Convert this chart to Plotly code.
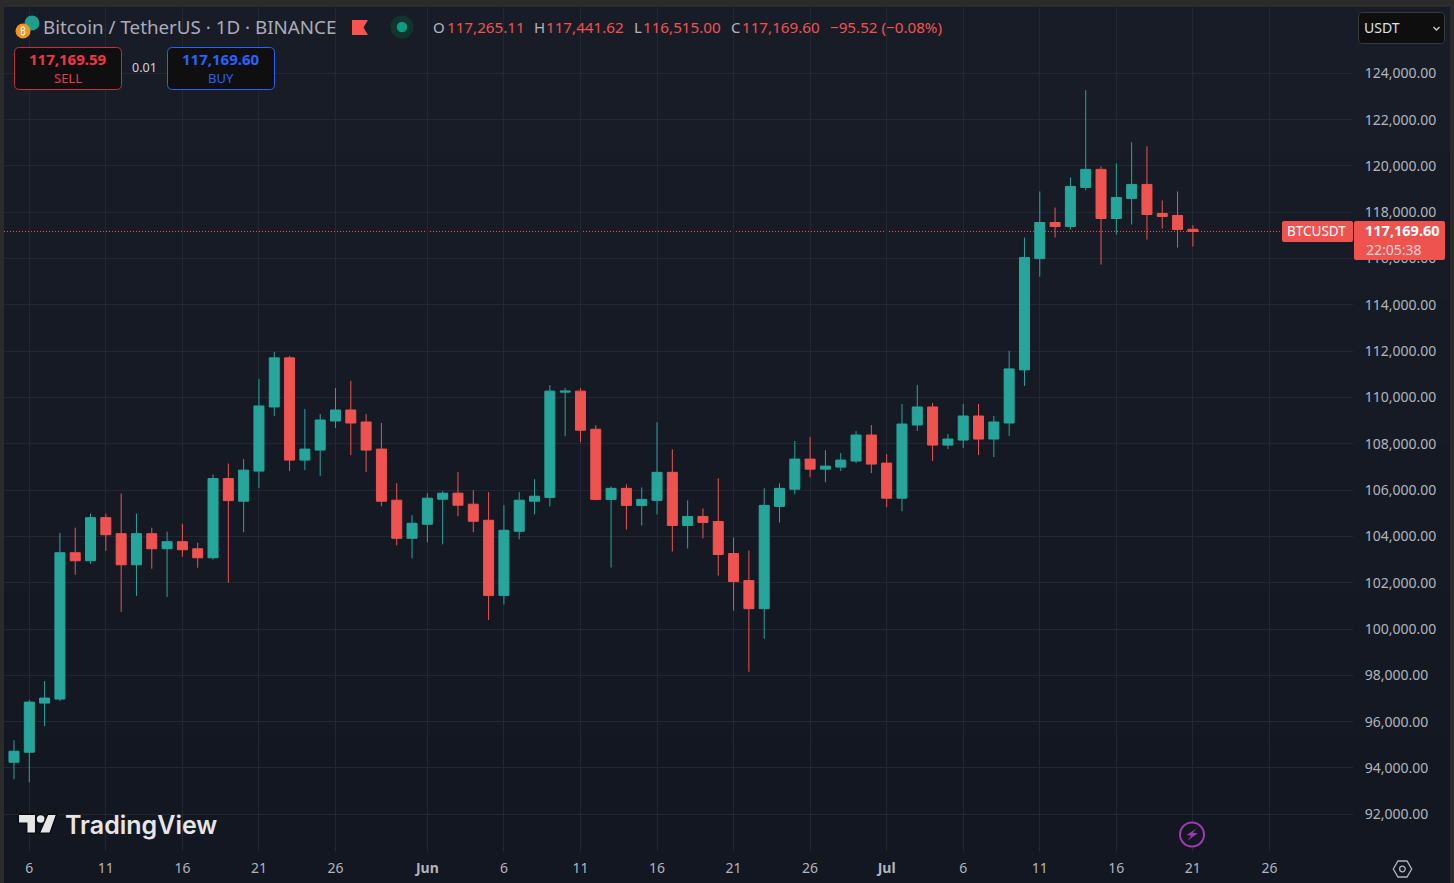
import pandas as pd
import plotly.graph_objects as go

# BTCUSDT daily candles
dates = pd.date_range("2025-05-05", "2025-07-21", freq="D")
opens = [94248, 94681, 96802, 96975, 103296, 102950, 104811, 104118, 102776, 104118, 103469, 103772, 103469, 103079,
         106499, 105521, 106820, 109590, 111711, 107296, 107729, 108984, 109460, 108941, 107772, 105564, 103919,
         104525, 105608, 105867, 105391, 104698, 101452, 104222, 105521, 105685, 110231, 110274, 108629, 105599,
         106075, 105339, 105556, 106768, 104473, 104863, 104646, 103261, 102092, 100880, 105296, 106040, 107339,
         106906, 106993, 107253, 108378,
         107166, 105651, 108811, 109590, 107945, 108162, 109201, 108205, 108898, 111192, 115997, 117556, 117382,
         119071, 119850, 117729, 118595, 119201, 117945, 117859, 117265.11]
highs = [95200, 96932, 97755, 104162, 104378, 104984, 104984, 105850, 104984, 104378, 104205, 104551, 103729, 106672,
         107149, 107339, 110802, 111971, 111798, 109504, 109287, 110413, 110716, 109287, 108898, 106300, 104915,
         105867, 105954, 106776, 105997, 105911, 105348, 105911, 106473, 110534, 110404, 110404, 108802, 106162,
         106248, 106118, 108932, 107763, 105556, 105209, 106508, 103954, 103391, 106075, 106291, 108118, 108291,
         107729, 107599, 108551, 108811,
         107556, 109720, 110543, 109763, 108421, 109720, 109720, 109201, 112014, 116906, 118898, 118205, 119504,
         123270, 119980, 120110, 121019, 120846, 118508, 118898, 117441.62]
lows = [93512, 93382, 95807, 96889, 102343, 102820, 103382, 100742, 101434, 102603, 101391, 103123, 102646, 103000,
        101997, 104179, 106084, 109201, 106820, 106863, 106603, 108681, 107512, 106776, 105304, 103616, 103053,
        103746, 103659, 104872, 104179, 100391, 101062, 103876, 104958, 105296, 108326, 108066, 105560, 102655,
        104300, 104473, 104950, 103348, 103478, 103911, 102309, 100794, 98153, 99582, 104603, 105824, 106560,
        106343, 106820, 107166, 106733,
        105261, 105088, 108551, 107253, 107772, 107815, 107512, 107426, 108335, 110499, 115218, 116906, 117253,
        118941, 115737, 117036, 117469, 116820, 117296, 116473, 116515.00]
closes = [94724, 96846, 97019, 103296, 102950, 104811, 104075, 102776, 104118, 103469, 103772, 103426, 103079, 106499,
          105547, 106863, 109633, 111711, 107296, 107772, 109027, 109460, 108898, 107729, 105521, 103919, 104569,
          105651, 105867, 105348, 104655, 101452, 104266, 105564, 105737, 110274, 110274, 108586, 105599, 106075,
          105339, 105599, 106768, 104473, 104863, 104603, 103218, 102049, 100880, 105339, 106075, 107339, 106906,
          107036, 107296, 108378, 107123,
          105651, 108854, 109590, 107945, 108205, 109201, 108205, 108941, 111235, 116040, 117556, 117382, 119114,
          119850, 117729, 118638, 119201, 117902, 117815, 117253, 117169.60]

last_price = 117169.60
price_ticks = list(range(92000, 126000, 2000))
date_ticks = ["2025-05-06", "2025-05-11", "2025-05-16", "2025-05-21", "2025-05-26", "2025-06-01", "2025-06-06",
              "2025-06-11", "2025-06-16", "2025-06-21", "2025-06-26", "2025-07-01", "2025-07-06", "2025-07-11",
              "2025-07-16", "2025-07-21", "2025-07-26"]
date_labels = ["6", "11", "16", "21", "26", "<b>Jun</b>", "6", "11", "16", "21", "26", "<b>Jul</b>", "6", "11", "16",
               "21", "26"]

FONT = "Noto Sans"
TEAL = "#26a69a"
RED = "#ef5350"
GRID = "#232732"
AXIS_TEXT = "#b2b5be"
SELL_RED = "#f23645"
BUY_BLUE = "#2962ff"
BG_BANDS = ["#181c27", "#171b26", "#161a25", "#151924", "#141823", "#131722"]

# plot area in page pixels
L, R, T, B = 4, 1353, 7, 851


def xp(px):
    return (px - L) / (R - L)


def yp(py):
    return (B - py) / (B - T)


def path(points, close=True):
    d = "M " + " L ".join(f"{xp(x):.5f},{yp(y):.5f}" for x, y in points)
    return d + (" Z" if close else "")


def rounded(x0, y0, x1, y1, r):
    # rounded rectangle with quadratic corners
    return (f"M {xp(x0 + r):.5f},{yp(y0):.5f} L {xp(x1 - r):.5f},{yp(y0):.5f} "
            f"Q {xp(x1):.5f},{yp(y0):.5f} {xp(x1):.5f},{yp(y0 + r):.5f} L {xp(x1):.5f},{yp(y1 - r):.5f} "
            f"Q {xp(x1):.5f},{yp(y1):.5f} {xp(x1 - r):.5f},{yp(y1):.5f} L {xp(x0 + r):.5f},{yp(y1):.5f} "
            f"Q {xp(x0):.5f},{yp(y1):.5f} {xp(x0):.5f},{yp(y1 - r):.5f} L {xp(x0):.5f},{yp(y0 + r):.5f} "
            f"Q {xp(x0):.5f},{yp(y0):.5f} {xp(x0 + r):.5f},{yp(y0):.5f} Z")


def rect(x0, y0, x1, y1, fill, layer="above", line=None):
    return dict(type="rect", xref="paper", yref="paper", x0=xp(x0), x1=xp(x1), y0=yp(y0), y1=yp(y1),
                fillcolor=fill, layer=layer, line=dict(width=0) if line is None else line)


def circle(cx, cy, r, fill, line=None):
    return dict(type="circle", xref="paper", yref="paper", x0=xp(cx - r), x1=xp(cx + r), y0=yp(cy + r), y1=yp(cy - r),
                fillcolor=fill, layer="above", line=dict(width=0) if line is None else line)


def poly(d, fill="rgba(0,0,0,0)", line=None):
    return dict(type="path", xref="paper", yref="paper", path=d, fillcolor=fill, layer="above",
                line=dict(width=0) if line is None else line)


def label(px, py, text, size, color, anchor="left", bold=False, family=FONT, weight=None):
    font = dict(family=family, size=size, color=color)
    if weight:
        font["weight"] = weight
    return dict(xref="paper", yref="paper", x=xp(px), y=yp(py), text=f"<b>{text}</b>" if bold else text,
                showarrow=False, xanchor=anchor, yanchor="middle", borderpad=0, font=font)


fig = go.Figure(go.Candlestick(
    x=dates, open=opens, high=highs, low=lows, close=closes,
    increasing=dict(line=dict(color=TEAL, width=1), fillcolor=TEAL),
    decreasing=dict(line=dict(color=RED, width=1), fillcolor=RED),
    whiskerwidth=0, hoverinfo="skip", showlegend=False,
))

shapes = []

# panel background: faint vertical gradient as stacked bands
band_h = (883 - T) / len(BG_BANDS)
for i, c in enumerate(BG_BANDS):
    shapes.append(rect(L, T + i * band_h, 1450, T + (i + 1) * band_h + 1, c, layer="below"))

# last price line
shapes.append(dict(type="line", xref="paper", yref="y", x0=0, x1=xp(1281), y0=last_price, y1=last_price,
                   layer="below", line=dict(color=RED, width=1, dash="1px 2px")))

# price tags on the axis
shapes.append(poly(rounded(1282, 221, 1353, 242, 2), fill=RED))
shapes.append(poly(rounded(1354, 221, 1445, 260, 2), fill=RED))

# symbol icons
shapes.append(circle(32, 23, 7.5, "#1f9e8f"))
shapes.append(circle(23, 31, 7.5, "#f7931a"))
shapes.append(poly(path([(352, 20), (368, 20), (363.5, 27.5), (368, 35), (352, 35)]), fill="#f9524f"))
shapes.append(circle(402, 27, 11.5, "#13332f"))
shapes.append(circle(402, 27, 5.2, "#0b9b80"))

# sell / buy buttons
shapes.append(poly(rounded(14.5, 47.5, 121.5, 89.5, 5), fill="#0f0f0f", line=dict(color="#c4303f", width=1)))
shapes.append(poly(rounded(167.5, 47.5, 274.5, 89.5, 5), fill="#0f0f0f", line=dict(color=BUY_BLUE, width=1)))

# currency select
shapes.append(poly(rounded(1358.5, 12.5, 1444.5, 43.5, 4), fill="#0e0e0e", line=dict(color="#3b3b3b", width=1)))
shapes.append(poly(path([(1433.5, 27), (1436.5, 30), (1439.5, 27)], close=False), line=dict(color="#c9ccd3", width=1.4)))

# TradingView logo
logo_line = dict(color="#0b0d12", width=1.5)
shapes.append(poly(path([(18.3, 814.3), (35.7, 814.3), (35.7, 833.3), (26.7, 833.3), (26.7, 823.3), (18.3, 823.3)]),
                   fill="#e6e6e6", line=logo_line))
shapes.append(circle(40.7, 819, 4.6, "#e6e6e6", line=logo_line))
shapes.append(poly(path([(47.7, 814.3), (56.7, 814.3), (50, 833.3), (39.3, 833.3)]), fill="#e6e6e6", line=logo_line))

# lightning badge
shapes.append(circle(1192, 834.5, 12, "#131722", line=dict(color="#a03ab4", width=2)))
shapes.append(poly(path([(1196.7, 828.3), (1186.7, 835), (1191.3, 835.7), (1187.3, 840.7), (1197.7, 833.3),
                         (1192.7, 832.7)]), fill="#a03ab4"))

# settings hexagon
shapes.append(poly(path([(1393.3, 869), (1398, 861), (1407, 861), (1411.7, 869), (1407, 877), (1398, 877)]),
                   line=dict(color=AXIS_TEXT, width=1.3)))
shapes.append(circle(1402.4, 869, 2.8, "rgba(0,0,0,0)", line=dict(color=AXIS_TEXT, width=1.3)))

annotations = [
    label(23, 31.5, "₿", 10, "#ffffff", anchor="center"),
    label(42, 26.5, "Bitcoin / TetherUS · 1D · BINANCE", 18.8, "#a9acb8"),
    label(432.5, 26.8, "O", 15, AXIS_TEXT),
    label(445.5, 26.8, "117,265.11", 15.2, RED),
    label(533, 26.8, "H", 15, AXIS_TEXT),
    label(544.5, 26.8, "117,441.62", 15.2, RED),
    label(633, 26.8, "L", 15, AXIS_TEXT),
    label(642, 26.8, "116,515.00", 15.2, RED),
    label(730, 26.8, "C", 15, AXIS_TEXT),
    label(741, 26.8, "117,169.60", 15.2, RED),
    label(829, 26.8, "−95.52 (−0.08%)", 15.2, RED),
    label(68, 59.5, "117,169.59", 15, SELL_RED, anchor="center", bold=True),
    label(68, 78.5, "SELL", 13, SELL_RED, anchor="center"),
    label(144, 67.5, "0.01", 12.5, "#d1d4dc", anchor="center"),
    label(221, 59.5, "117,169.60", 15, BUY_BLUE, anchor="center", bold=True),
    label(221, 78.5, "BUY", 13, BUY_BLUE, anchor="center"),
    label(1363, 28, "USDT", 14, "#d8e6ee"),
    label(1286, 231, "BTCUSDT", 13.5, "#ffffff"),
    label(1402, 230, "<b>117,169.60</b>", 14.5, "#ffffff", anchor="center"),
    label(1365, 249.5, "22:05:38", 14, "#ffd6d4"),
    label(63.5, 824.5, "TradingView", 25, "#e6e6e6", family="Inter", weight=600),
]

fig.update_layout(
    width=1454, height=883,
    margin=dict(l=L, r=1454 - R, t=T, b=883 - B, pad=0),
    paper_bgcolor="#2b2b2a",
    plot_bgcolor="rgba(0,0,0,0)",
    boxgap=0.347,
    boxgroupgap=0,
    showlegend=False,
    hovermode=False,
    dragmode=False,
    shapes=shapes,
    annotations=annotations,
    font=dict(family=FONT, size=14, color=AXIS_TEXT),
)
fig.update_xaxes(
    type="date",
    automargin=False,
    range=["2025-05-04 08:21", "2025-07-31 11:00"],
    rangeslider=dict(visible=False),
    tickmode="array", tickvals=date_ticks, ticktext=date_labels, tickangle=0,
    ticks="outside", ticklen=4, tickcolor="rgba(0,0,0,0)",
    showgrid=True, gridcolor=GRID, gridwidth=1, zeroline=False, showline=False,
    tickfont=dict(family=FONT, size=14, color=AXIS_TEXT),
)
fig.update_yaxes(
    side="right",
    automargin=False,
    range=[90415, 126863],
    tickmode="array", tickvals=price_ticks, tickformat=",.2f",
    ticks="outside", ticklen=8, tickcolor="rgba(0,0,0,0)",
    showgrid=True, gridcolor=GRID, gridwidth=1, zeroline=False, showline=False,
    tickfont=dict(family=FONT, size=14, color=AXIS_TEXT),
)

fig.write_html("out.html", config=dict(displayModeBar=False),
               post_script="document.body.style.margin='0';document.body.style.overflow='hidden';")
